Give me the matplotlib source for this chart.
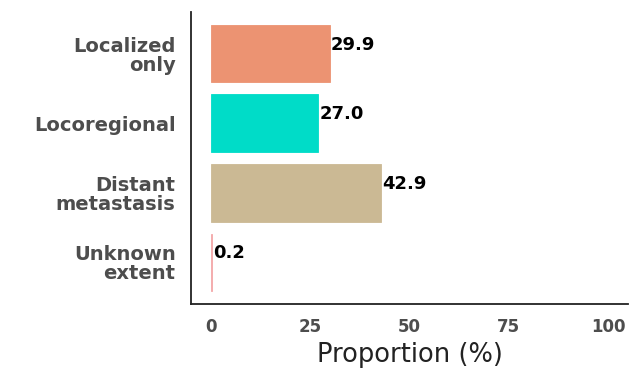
import matplotlib.pyplot as plt

stages = ["Localized\nonly", "Locoregional", "Distant\nmetastasis", "Unknown\nextent"]
proportions = [29.9, 27.0, 42.9, 0.2]
colors = ["#EC9372", "#00DCC8", "#CBB994", "#F4A7A9"]
xticks = [0, 25, 50, 75, 100]

plt.rcParams["font.family"] = "DejaVu Sans"

fig = plt.figure(figsize=(6.3, 3.7), dpi=100)
ax = fig.add_axes([0.303, 0.178, 0.694, 0.79])

ypos = list(range(len(stages)))
ax.barh(ypos, proportions, height=0.83, color=colors, edgecolor=colors,
        linewidth=0.6)
for y, v in zip(ypos, proportions):
    ax.text(v + 0.3, y - 0.13, f"{v:.1f}", ha="left", va="center",
            fontsize=13, fontweight="bold", color="black")

ax.set_ylim(len(stages) - 0.4, -0.6)
ax.set_xlim(-5, 105)
ax.set_yticks(ypos)
ax.set_yticklabels(stages, fontsize=14, fontweight="bold", color="#4D4D4D",
                   linespacing=1.0)
ax.set_xticks(xticks)
ax.set_xticklabels([str(t) for t in xticks], fontsize=12, fontweight="bold",
                   color="#4D4D4D")
ax.tick_params(axis="both", length=0)
ax.tick_params(axis="y", pad=11)
ax.tick_params(axis="x", pad=10)
ax.set_xlabel("Proportion (%)", fontsize=18.5, color="#222222", labelpad=4)

for side in ["top", "right"]:
    ax.spines[side].set_visible(False)
for side in ["left", "bottom"]:
    ax.spines[side].set_linewidth(1.3)
    ax.spines[side].set_color("#222222")

fig.savefig("out.png", dpi=100)
